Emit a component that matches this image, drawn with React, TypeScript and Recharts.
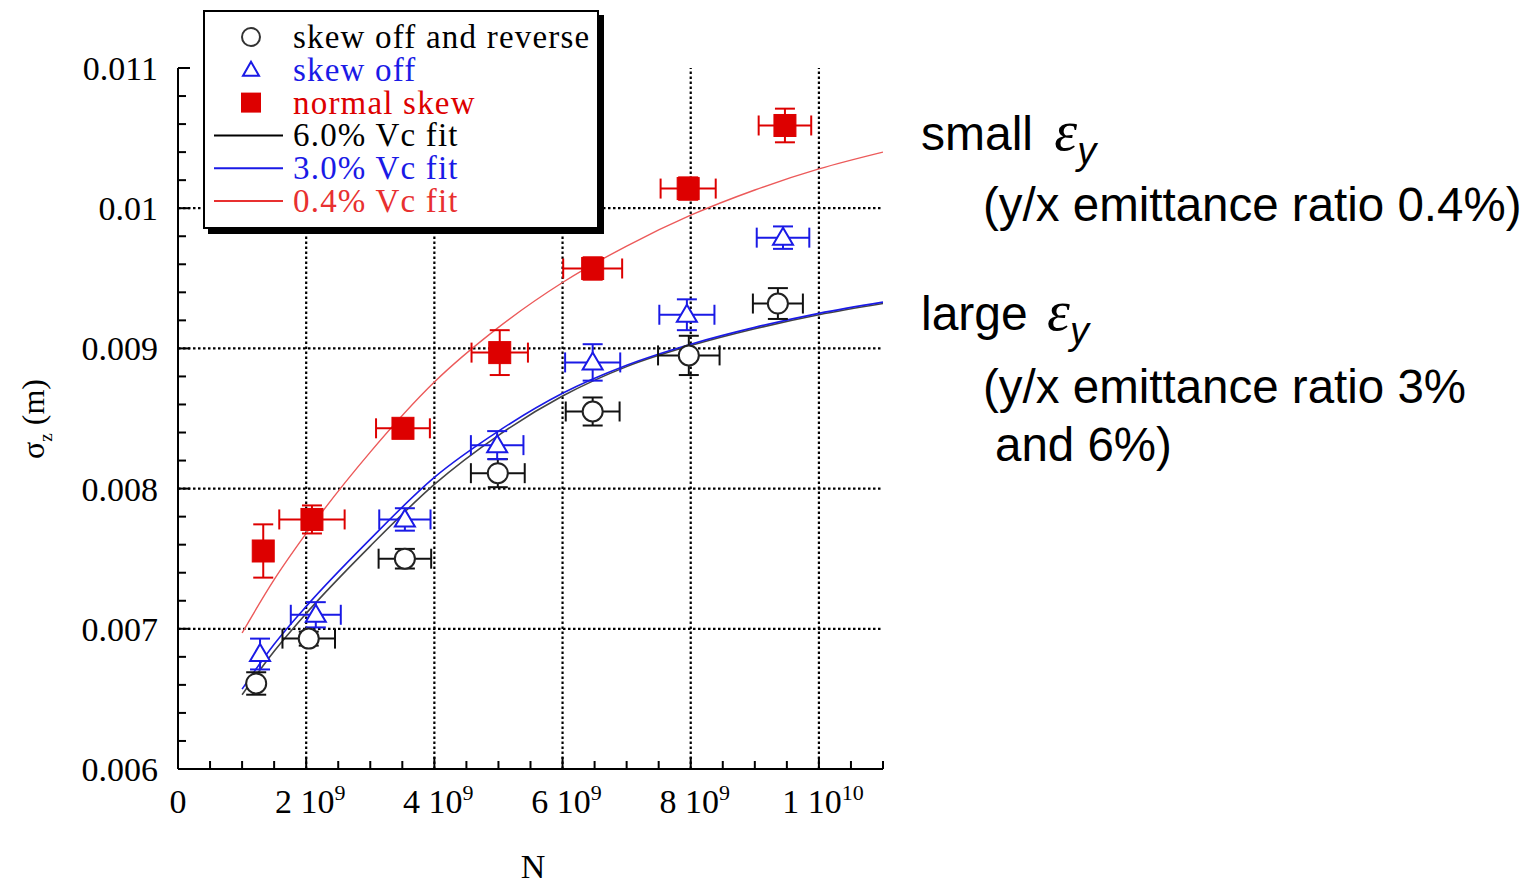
import React from "react";
import {
  ComposedChart,
  Line,
  Scatter,
  ErrorBar,
  XAxis,
  YAxis,
  ReferenceLine,
} from "recharts";

// measured points: N (particles/bunch), sigma_z (m), and error half-widths
const circleN = [1.22e9, 2.04e9, 3.54e9, 4.99e9, 6.47e9, 7.97e9, 9.36e9];
const circleSigma = [0.00661, 0.00693, 0.0075, 0.00811, 0.00855, 0.00895, 0.00932];
const circleErrN = [0, 0.41e9, 0.41e9, 0.42e9, 0.42e9, 0.48e9, 0.39e9];
const circleErrSigma = [0.00008, 0.00005, 0.00007, 0.0001, 0.0001, 0.00014, 0.00011];

const triN = [1.28e9, 2.15e9, 3.54e9, 4.98e9, 6.47e9, 7.94e9, 9.44e9];
const triSigma = [0.00682, 0.0071, 0.00778, 0.00831, 0.0089, 0.00924, 0.00979];
const triErrN = [0, 0.39e9, 0.4e9, 0.41e9, 0.43e9, 0.43e9, 0.41e9];
const triErrSigma = [0.00011, 0.00009, 0.00008, 0.0001, 0.00013, 0.00011, 0.00008];

const sqN = [1.33e9, 2.09e9, 3.51e9, 5.02e9, 6.47e9, 7.96e9, 9.47e9];
const sqSigma = [0.007555, 0.00778, 0.00843, 0.00897, 0.00957, 0.01014, 0.01059];
const sqErrN = [0, 0.51e9, 0.42e9, 0.44e9, 0.46e9, 0.43e9, 0.41e9];
const sqErrSigma = [0.00019, 0.0001, 0.00005, 0.00016, 0.00008, 0.00008, 0.00012];

// fit curves
const fitN = [1e9, 1.5e9, 2e9, 3e9, 4e9, 5e9, 6e9, 7e9, 8e9, 9e9, 1e10, 1.1e10];
const fit6 = [0.00653, 0.00684, 0.00711, 0.00759, 0.00803, 0.00838, 0.00866, 0.00887, 0.00902, 0.00914, 0.00924, 0.00932];
const fit3 = [0.00657, 0.00689, 0.00716, 0.00764, 0.00808, 0.00841, 0.00868, 0.00888, 0.00903, 0.00915, 0.00925, 0.00933];
const fit04 = [0.00697, 0.00735, 0.00768, 0.00826, 0.00876, 0.00915, 0.00947, 0.00973, 0.00995, 0.01013, 0.01028, 0.0104];

// axes
const xMajorTicks = [0, 2e9, 4e9, 6e9, 8e9, 1e10];
const xTickMantissa = ["0", "2 10", "4 10", "6 10", "8 10", "1 10"];
const xTickExponent = ["", "9", "9", "9", "9", "10"];
const xAllTicks = [
  0, 0.5e9, 1e9, 1.5e9, 2e9, 2.5e9, 3e9, 3.5e9, 4e9, 4.5e9, 5e9, 5.5e9,
  6e9, 6.5e9, 7e9, 7.5e9, 8e9, 8.5e9, 9e9, 9.5e9, 1e10, 1.05e10, 1.1e10,
];
const yMajorTicks = [0.006, 0.007, 0.008, 0.009, 0.01, 0.011];
const yTickLabels = ["0.006", "0.007", "0.008", "0.009", "0.01", "0.011"];
const yAllTicks = [
  0.006, 0.0062, 0.0064, 0.0066, 0.0068, 0.007, 0.0072, 0.0074, 0.0076, 0.0078,
  0.008, 0.0082, 0.0084, 0.0086, 0.0088, 0.009, 0.0092, 0.0094, 0.0096, 0.0098,
  0.01, 0.0102, 0.0104, 0.0106, 0.0108, 0.011,
];
const xGrid = [2e9, 4e9, 6e9, 8e9, 1e10];
const yGrid = [0.007, 0.008, 0.009, 0.01];

const RED = "#dd0000";
const BLUE = "#1a1ae6";
const SERIF = "'Liberation Serif', 'Times New Roman', serif";
const SANS = "'Liberation Sans', Arial, sans-serif";

const zip = (xs: number[], ys: number[], ex?: number[], ey?: number[]) =>
  xs.map((x, i) => ({ x, y: ys[i], ex: ex ? ex[i] : 0, ey: ey ? ey[i] : 0 }));

const circles = zip(circleN, circleSigma, circleErrN, circleErrSigma);
const triangles = zip(triN, triSigma, triErrN, triErrSigma);
const squares = zip(sqN, sqSigma, sqErrN, sqErrSigma);

const idxOf = (arr: number[], v: number, tol: number) =>
  arr.findIndex((a) => Math.abs(a - v) < tol);

const BottomTick = (props: any) => {
  const { x, y, payload } = props;
  const i = idxOf(xMajorTicks, payload.value, 1e6);
  const len = i >= 0 ? 12 : 8;
  return (
    <g>
      <line x1={x} y1={y} x2={x} y2={y - len} stroke="#000" strokeWidth={2} />
      {i >= 0 && (
        <text x={x + (i === 0 ? 0 : 4)} y={y + 44} textAnchor="middle" fontFamily={SERIF} fontSize={34} fill="#000">
          <tspan>{xTickMantissa[i]}</tspan>
          {xTickExponent[i] && (
            <tspan dy={-13} fontSize={22}>
              {xTickExponent[i]}
            </tspan>
          )}
        </text>
      )}
    </g>
  );
};

const TopTick = (props: any) => {
  const { x, y, payload } = props;
  const len = idxOf(xMajorTicks, payload.value, 1e6) >= 0 ? 12 : 8;
  return <line x1={x} y1={y} x2={x} y2={y + len} stroke="#000" strokeWidth={2} />;
};

const LeftTick = (props: any) => {
  const { x, y, payload } = props;
  const i = idxOf(yMajorTicks, payload.value, 1e-7);
  const len = i >= 0 ? 12 : 8;
  return (
    <g>
      <line x1={x} y1={y} x2={x + len} y2={y} stroke="#000" strokeWidth={2} />
      {i >= 0 && (
        <text x={x - 20} y={y + 12} textAnchor="end" fontFamily={SERIF} fontSize={34} fill="#000">
          {yTickLabels[i]}
        </text>
      )}
    </g>
  );
};

const RightTick = (props: any) => {
  const { x, y, payload } = props;
  const len = idxOf(yMajorTicks, payload.value, 1e-7) >= 0 ? 12 : 8;
  return <line x1={x} y1={y} x2={x - len} y2={y} stroke="#000" strokeWidth={2} />;
};

const CircleShape = (p: any) => (
  <circle cx={p.cx} cy={p.cy} r={10} fill="#fff" stroke="#222" strokeWidth={2} />
);
const TriangleShape = (p: any) => (
  <polygon
    points={`${p.cx},${p.cy - 10} ${p.cx - 10},${p.cy + 7} ${p.cx + 10},${p.cy + 7}`}
    fill="#fff"
    stroke={BLUE}
    strokeWidth={2}
  />
);
const SquareShape = (p: any) => (
  <rect x={p.cx - 11} y={p.cy - 11} width={22} height={22} fill={RED} stroke={RED} />
);

const legendItems = [
  { label: "skew off and reverse", color: "#000", kind: "circle" },
  { label: "skew off", color: BLUE, kind: "triangle" },
  { label: "normal skew", color: RED, kind: "square" },
  { label: "6.0% Vc fit", color: "#000", kind: "line" },
  { label: "3.0% Vc fit", color: BLUE, kind: "line" },
  { label: "0.4% Vc fit", color: "#e83030", kind: "line" },
];

const LegendBox = () => (
  <div
    style={{
      position: "absolute",
      left: 203,
      top: 10,
      width: 392,
      height: 215,
      border: "2px solid #000",
      background: "#fff",
      boxShadow: "5px 5px 0 #000",
    }}
  >
    <svg width={392} height={215}>
      {legendItems.map((it, i) => {
        const cy = 25 + i * 32.8;
        return (
          <g key={it.label}>
            {it.kind === "circle" && <circle cx={46} cy={cy} r={9} fill="#fff" stroke="#333" strokeWidth={2} />}
            {it.kind === "triangle" && (
              <polygon points={`46,${cy - 8} 38,${cy + 6} 54,${cy + 6}`} fill="#fff" stroke={BLUE} strokeWidth={2} />
            )}
            {it.kind === "square" && <rect x={36} y={cy - 10} width={20} height={20} fill={RED} />}
            {it.kind === "line" && <line x1={9} y1={cy} x2={78} y2={cy} stroke={it.color} strokeWidth={2} />}
            <text x={88} y={cy + 11} fontFamily={SERIF} fontSize={33} letterSpacing={1.2} fill={it.color}>
              {it.label}
            </text>
          </g>
        );
      })}
    </svg>
  </div>
);

export default function App() {
  return (
    <div style={{ position: "absolute", left: 0, top: 0, width: 1539, height: 886, background: "#fff" }}>
      <ComposedChart
        width={900}
        height={886}
        margin={{ top: 68, right: 17, bottom: 77, left: 100 }}
      >
        <XAxis
          type="number"
          dataKey="x"
          domain={[0, 1.1e10]}
          allowDataOverflow
          ticks={xAllTicks}
          interval={0}
          tickSize={0}
          tickMargin={0}
          tick={<BottomTick />}
          axisLine={{ stroke: "#000", strokeWidth: 2 }}
          tickLine={false}
          height={40}
        />
        <XAxis
          xAxisId="top"
          orientation="top"
          type="number"
          domain={[0, 1.1e10]}
          allowDataOverflow
          ticks={xAllTicks}
          interval={0}
          tickSize={0}
          tickMargin={0}
          tick={<TopTick />}
          axisLine={{ stroke: "#000", strokeWidth: 2 }}
          tickLine={false}
          height={0}
        />
        <YAxis
          type="number"
          dataKey="y"
          domain={[0.006, 0.011]}
          allowDataOverflow
          ticks={yAllTicks}
          interval={0}
          tickSize={0}
          tickMargin={0}
          tick={<LeftTick />}
          axisLine={{ stroke: "#000", strokeWidth: 2 }}
          tickLine={false}
          width={78}
        />
        <YAxis
          yAxisId="right"
          orientation="right"
          type="number"
          domain={[0.006, 0.011]}
          allowDataOverflow
          ticks={yAllTicks}
          interval={0}
          tickSize={0}
          tickMargin={0}
          tick={<RightTick />}
          axisLine={{ stroke: "#000", strokeWidth: 2 }}
          tickLine={false}
          width={0}
        />
        {xGrid.map((v) => (
          <ReferenceLine key={`gx${v}`} x={v} stroke="#000" strokeWidth={2.2} strokeDasharray="2.5 2.5" />
        ))}
        {yGrid.map((v) => (
          <ReferenceLine key={`gy${v}`} y={v} stroke="#000" strokeWidth={2.2} strokeDasharray="2.5 2.5" />
        ))}
        <Line
          data={zip(fitN, fit6)}
          dataKey="y"
          type="monotone"
          stroke="#444"
          strokeWidth={1.6}
          dot={false}
          isAnimationActive={false}
        />
        <Line
          data={zip(fitN, fit3)}
          dataKey="y"
          type="monotone"
          stroke={BLUE}
          strokeWidth={1.6}
          dot={false}
          isAnimationActive={false}
        />
        <Line
          data={zip(fitN, fit04)}
          dataKey="y"
          type="monotone"
          stroke="#ec5a5a"
          strokeWidth={1.4}
          dot={false}
          isAnimationActive={false}
        />
        <Scatter data={circles} shape={<CircleShape />} isAnimationActive={false}>
          <ErrorBar dataKey="ex" direction="x" width={10} stroke="#111" strokeWidth={2} />
          <ErrorBar dataKey="ey" direction="y" width={10} stroke="#111" strokeWidth={2} />
        </Scatter>
        <Scatter data={triangles} shape={<TriangleShape />} isAnimationActive={false}>
          <ErrorBar dataKey="ex" direction="x" width={10} stroke={BLUE} strokeWidth={2} />
          <ErrorBar dataKey="ey" direction="y" width={10} stroke={BLUE} strokeWidth={2} />
        </Scatter>
        <Scatter data={squares} shape={<SquareShape />} isAnimationActive={false}>
          <ErrorBar dataKey="ex" direction="x" width={10} stroke={RED} strokeWidth={2} />
          <ErrorBar dataKey="ey" direction="y" width={10} stroke={RED} strokeWidth={2} />
        </Scatter>
      </ComposedChart>

      <LegendBox />

      <svg width={1539} height={886} style={{ position: "absolute", left: 0, top: 0, pointerEvents: "none" }}>
        <text transform="translate(44,419) rotate(-90)" textAnchor="middle" fontFamily={SERIF} fontSize={32} fill="#000">
          <tspan>σ</tspan>
          <tspan dy={8} fontSize={19}>z</tspan>
          <tspan dy={-8}> (m)</tspan>
        </text>
        <text x={533} y={878} textAnchor="middle" fontFamily={SERIF} fontSize={34} fill="#000">
          N
        </text>

        <text x={921} y={150} fontFamily={SANS} fontSize={48} fill="#000">
          <tspan>small </tspan>
          <tspan dx={8} fontFamily={SERIF} fontStyle="italic" fontSize={58}>ε</tspan>
          <tspan dy={14} fontFamily={SANS} fontStyle="italic" fontSize={38}>y</tspan>
        </text>
        <text x={983} y={221} fontFamily={SANS} fontSize={47.5} fill="#000">
          (y/x emittance ratio 0.4%)
        </text>
        <text x={921} y={330} fontFamily={SANS} fontSize={48} fill="#000">
          <tspan>large </tspan>
          <tspan dx={6} fontFamily={SERIF} fontStyle="italic" fontSize={58}>ε</tspan>
          <tspan dy={14} fontFamily={SANS} fontStyle="italic" fontSize={38}>y</tspan>
        </text>
        <text x={983} y={403} fontFamily={SANS} fontSize={47.5} fill="#000">
          (y/x emittance ratio 3%
        </text>
        <text x={995} y={461} fontFamily={SANS} fontSize={47.5} fill="#000">
          and 6%)
        </text>
      </svg>
    </div>
  );
}
